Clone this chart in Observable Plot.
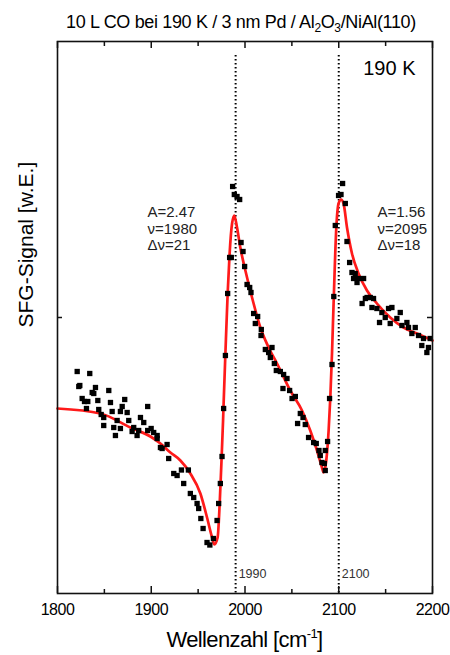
<!DOCTYPE html>
<html><head><meta charset="utf-8">
<script src="https://cdn.jsdelivr.net/npm/d3@7"></script>
<script src="https://cdn.jsdelivr.net/npm/@observablehq/plot@0.6"></script>
<style>
body{margin:0;background:#fff;font-family:"Liberation Sans",Arial,sans-serif;color:#000;}
#wrap{position:relative;width:450px;height:655px;overflow:hidden;}
#title{height:34px;box-sizing:border-box;padding-top:13px;padding-left:32px;width:450px;text-align:center;font-size:18px;line-height:18px;letter-spacing:-0.35px;white-space:nowrap;}
#title sub{font-size:12px;line-height:0;vertical-align:-4px;}
#xlabel{height:30px;box-sizing:border-box;padding-top:4px;margin-left:57px;width:375px;text-align:center;font-size:22px;line-height:22px;letter-spacing:-0.6px;white-space:nowrap;}
#xlabel sup{font-size:13px;line-height:0;vertical-align:9px;}
g[aria-label="x-axis tick label"] text{letter-spacing:-0.5px;}
</style></head>
<body><div id="wrap"><div id="title">10 L CO bei 190 K / 3 nm Pd / Al<sub>2</sub>O<sub>3</sub>/NiAl(110)</div><div id="chart"></div><div id="xlabel">Wellenzahl [cm<sup>-1</sup>]</div></div>
<script>
// Measured SFG data (wavenumber, signal in arbitrary units)
const dataX = [1821.0,1834.4,1823.8,1822.7,1840.5,1837.0,1838.7,1854.7,1826.3,1828.8,1832.3,1843.0,1856.5,1871.7,1896.2,1830.9,1844.0,1869.0,1858.3,1867.1,1874.3,1846.6,1849.3,1888.5,1863.6,1876.0,1892.0,1849.3,1860.0,1867.1,1881.3,1879.6,1886.6,1899.9,1884.9,1861.8,1896.2,1902.6,1906.3,1906.3,1909.8,1916.9,1911.6,1918.6,
1924.0,1927.6,1932.2,1939.6,1934.6,1941.7,1945.3,1948.9,1950.6,1952.9,1955.3,1959.5,1962.5,1966.3,1970.2,1971.9,1973.7,1975.5,1977.2,1979.1,
1981.5,1983.6,1985.4,1986.8,1988.6,1991.5,1994.3,1995.8,1997.9,1999.6,2002.2,2005.0,2006.4,2009.2,2013.5,2011.0,2017.4,2017.1,2021.7,2025.2,
2028.8,2027.0,2031.3,2033.4,2037.7,2041.2,2044.8,2040.5,2047.6,2050.2,2053.7,2059.0,2061.9,2056.1,2064.3,2067.8,2073.2,2076.0,2078.9,2085.6,2088.1,2080.3,2082.1,2084.6,2085.6,2090.2,2092.8,2094.7,
2096.3,2099.8,2102.4,2104.1,2107.0,2108.8,2111.6,2114.1,2117.6,2115.8,2121.1,2126.5,2119.5,2124.9,2128.4,2130.2,2133.6,2137.1,2135.4,2140.7,2143.5,2146.0,2149.6,2153.1,2156.7,2154.9,2162.0,2165.6,2167.4,2172.7,2174.4,2181.6,2178.0,2185.1,2188.6,2190.4,2194.0,2195.7,2197.5];
const dataY = [2.22,2.20,2.08,2.07,2.06,2.01,2.00,2.03,1.95,1.92,1.92,1.93,1.91,1.94,1.87,1.85,1.84,1.87,1.82,1.82,1.81,1.79,1.76,1.76,1.73,1.73,1.71,1.68,1.66,1.65,1.66,1.62,1.63,1.65,1.58,1.58,1.63,1.61,1.58,1.55,1.46,1.49,1.45,1.35,
1.20,1.18,1.235,1.235,1.10,1.00,0.96,0.90,0.85,0.75,0.65,0.51,0.485,0.55,0.73,0.90,1.10,1.37,1.85,2.38,
3.00,3.36,3.36,4.07,3.99,3.97,3.94,3.51,3.42,3.27,3.09,3.06,3.01,2.80,2.77,2.70,2.64,2.58,2.44,2.41,
2.46,2.36,2.30,2.23,2.22,2.19,2.15,2.05,2.03,1.95,1.97,1.80,1.76,1.70,1.69,1.56,1.51,1.50,1.43,1.43,1.52,1.38,1.31,1.30,1.23,1.95,2.29,2.97,
3.68,3.98,3.99,4.10,3.90,3.52,3.31,3.21,3.20,3.15,3.15,3.15,3.11,2.90,2.95,2.96,2.96,2.95,2.86,2.85,2.71,2.81,2.76,2.85,2.86,2.70,2.75,2.81,2.68,2.71,2.66,2.66,2.60,2.58,2.48,2.55,2.41,2.46,2.55];

// Fit curve
const fitX = [1800,1845.8,1877.8,1899.1,1909.8,1920.4,1931.1,1941.7,1952.4,1959.5,1964.9,1967.3,1970.8,1973.0,1974.5,1976.6,1977.2,1979.1,1981.5,1983.6,1986.2,1988.6,1991.5,1995.0,2000.4,2007.5,2016.4,2025.2,2034.2,2048.3,2060.8,2069.6,2076.8,2082.1,2083.8,2086.7,2089.2,2091.0,2092.8,2094.5,2097.4,2099.8,2102.4,2105.1,2108.8,2114.1,2121.1,2130.1,2140.7,2154.9,2169.1,2183.4,2200];
const fitY = [1.85,1.80,1.66,1.57,1.50,1.41,1.33,1.20,1.00,0.76,0.56,0.49,0.56,0.90,1.23,1.73,1.90,2.40,3.00,3.40,3.70,3.78,3.66,3.46,3.23,2.96,2.66,2.46,2.30,2.03,1.83,1.63,1.43,1.26,1.21,1.33,1.63,1.96,2.40,2.90,3.66,3.90,3.94,3.90,3.66,3.40,3.20,3.03,2.90,2.76,2.66,2.60,2.53];

// Axis ticks
const majorTicks = [1800,1900,2000,2100,2200];
const minorTicks = [1850,1950,2050,2150];
const yTicks = [2.76];
const xDomain = [1800,2200];
const yDomain = [0,5.52];

// Peak markers and fit annotations
const peakPos = [1990,2100];
const peakLabels = ["1990","2100"];
const peakTop = 5.38;
const fitText = ["A=2.47\nν=1980\nΔν=21","A=1.56\nν=2095\nΔν=18"];
const tempLabel = "190 K";
const yLabel = "SFG-Signal [w.E.]";

const points = dataX.map((x,i)=>({x, y:dataY[i]}));
const fit = fitX.map((x,i)=>({x, y:fitY[i]}));
const peaks = peakPos.map((x,i)=>({x, label:peakLabels[i]}));

const W = 450, H = 591, mT = 7, mB = 32, mL = 57, mR = 18;
const innerH = H - mT - mB, innerW = W - mL - mR;
const font = "Liberation Sans, Arial, sans-serif";
const chart = Plot.plot({
  width: W, height: H,
  marginTop: mT, marginBottom: mB, marginLeft: mL, marginRight: mR,
  style: {display:"block", fontFamily: font, color:"#000", background:"#fff"},
  x: {domain: xDomain},
  y: {domain: yDomain, axis: null},
  marks: [
    Plot.ruleX(peaks, {x:"x", y1: peakTop, y2: 0, stroke:"#000", strokeWidth:2, strokeDasharray:"1.5,2.5"}),
    Plot.text(peaks, {x:"x", text:"label", frameAnchor:"bottom", textAnchor:"start", lineAnchor:"bottom", dx:3, dy:-16, fontSize:12.5, fill:"#333"}),
    Plot.line(fit, {x:"x", y:"y", stroke:"#ff1a1a", strokeWidth:2.7, curve:"monotone-x"}),
    Plot.dot(points, {x:"x", y:"y", symbol:"square", r:3, fill:"#000", stroke:"none"}),
    // inward ticks
    Plot.tickX(majorTicks, {x: d => d, insetTop: innerH - 7, stroke:"#111", strokeWidth:1.5}),
    Plot.tickX(minorTicks, {x: d => d, insetTop: innerH - 4, stroke:"#111", strokeWidth:1.5}),
    Plot.tickX(majorTicks, {x: d => d, insetBottom: innerH - 7, stroke:"#111", strokeWidth:1.5}),
    Plot.tickX(minorTicks, {x: d => d, insetBottom: innerH - 5, stroke:"#111", strokeWidth:1.5}),
    Plot.tickY(yTicks, {y: d => d, insetRight: innerW - 5, stroke:"#111", strokeWidth:1.5}),
    Plot.tickY(yTicks, {y: d => d, insetLeft: innerW - 5, stroke:"#111", strokeWidth:1.5}),
    Plot.frame({stroke:"#111", strokeWidth:1.6}),
    Plot.axisX({ticks: majorTicks, tickSize: 0, tickPadding: 10, fontSize: 16, tickFormat: d => String(d), label: null}),
    Plot.text([fitText[0]], {frameAnchor:"top-left", textAnchor:"start", lineAnchor:"top", dx:90, dy:164, fontSize:15, lineHeight:1.1, fill:"#222"}),
    Plot.text([fitText[1]], {frameAnchor:"top-left", textAnchor:"start", lineAnchor:"top", dx:320, dy:164, fontSize:15, lineHeight:1.1, fill:"#222"}),
    Plot.text([tempLabel], {frameAnchor:"top-right", textAnchor:"end", lineAnchor:"top", dx:-17, dy:19, fontSize:20}),
    Plot.text([yLabel], {frameAnchor:"left", rotate:-90, dx:-31, dy:10, fontSize:21})
  ]
});
document.getElementById("chart").appendChild(chart);
</script>
</body></html>
